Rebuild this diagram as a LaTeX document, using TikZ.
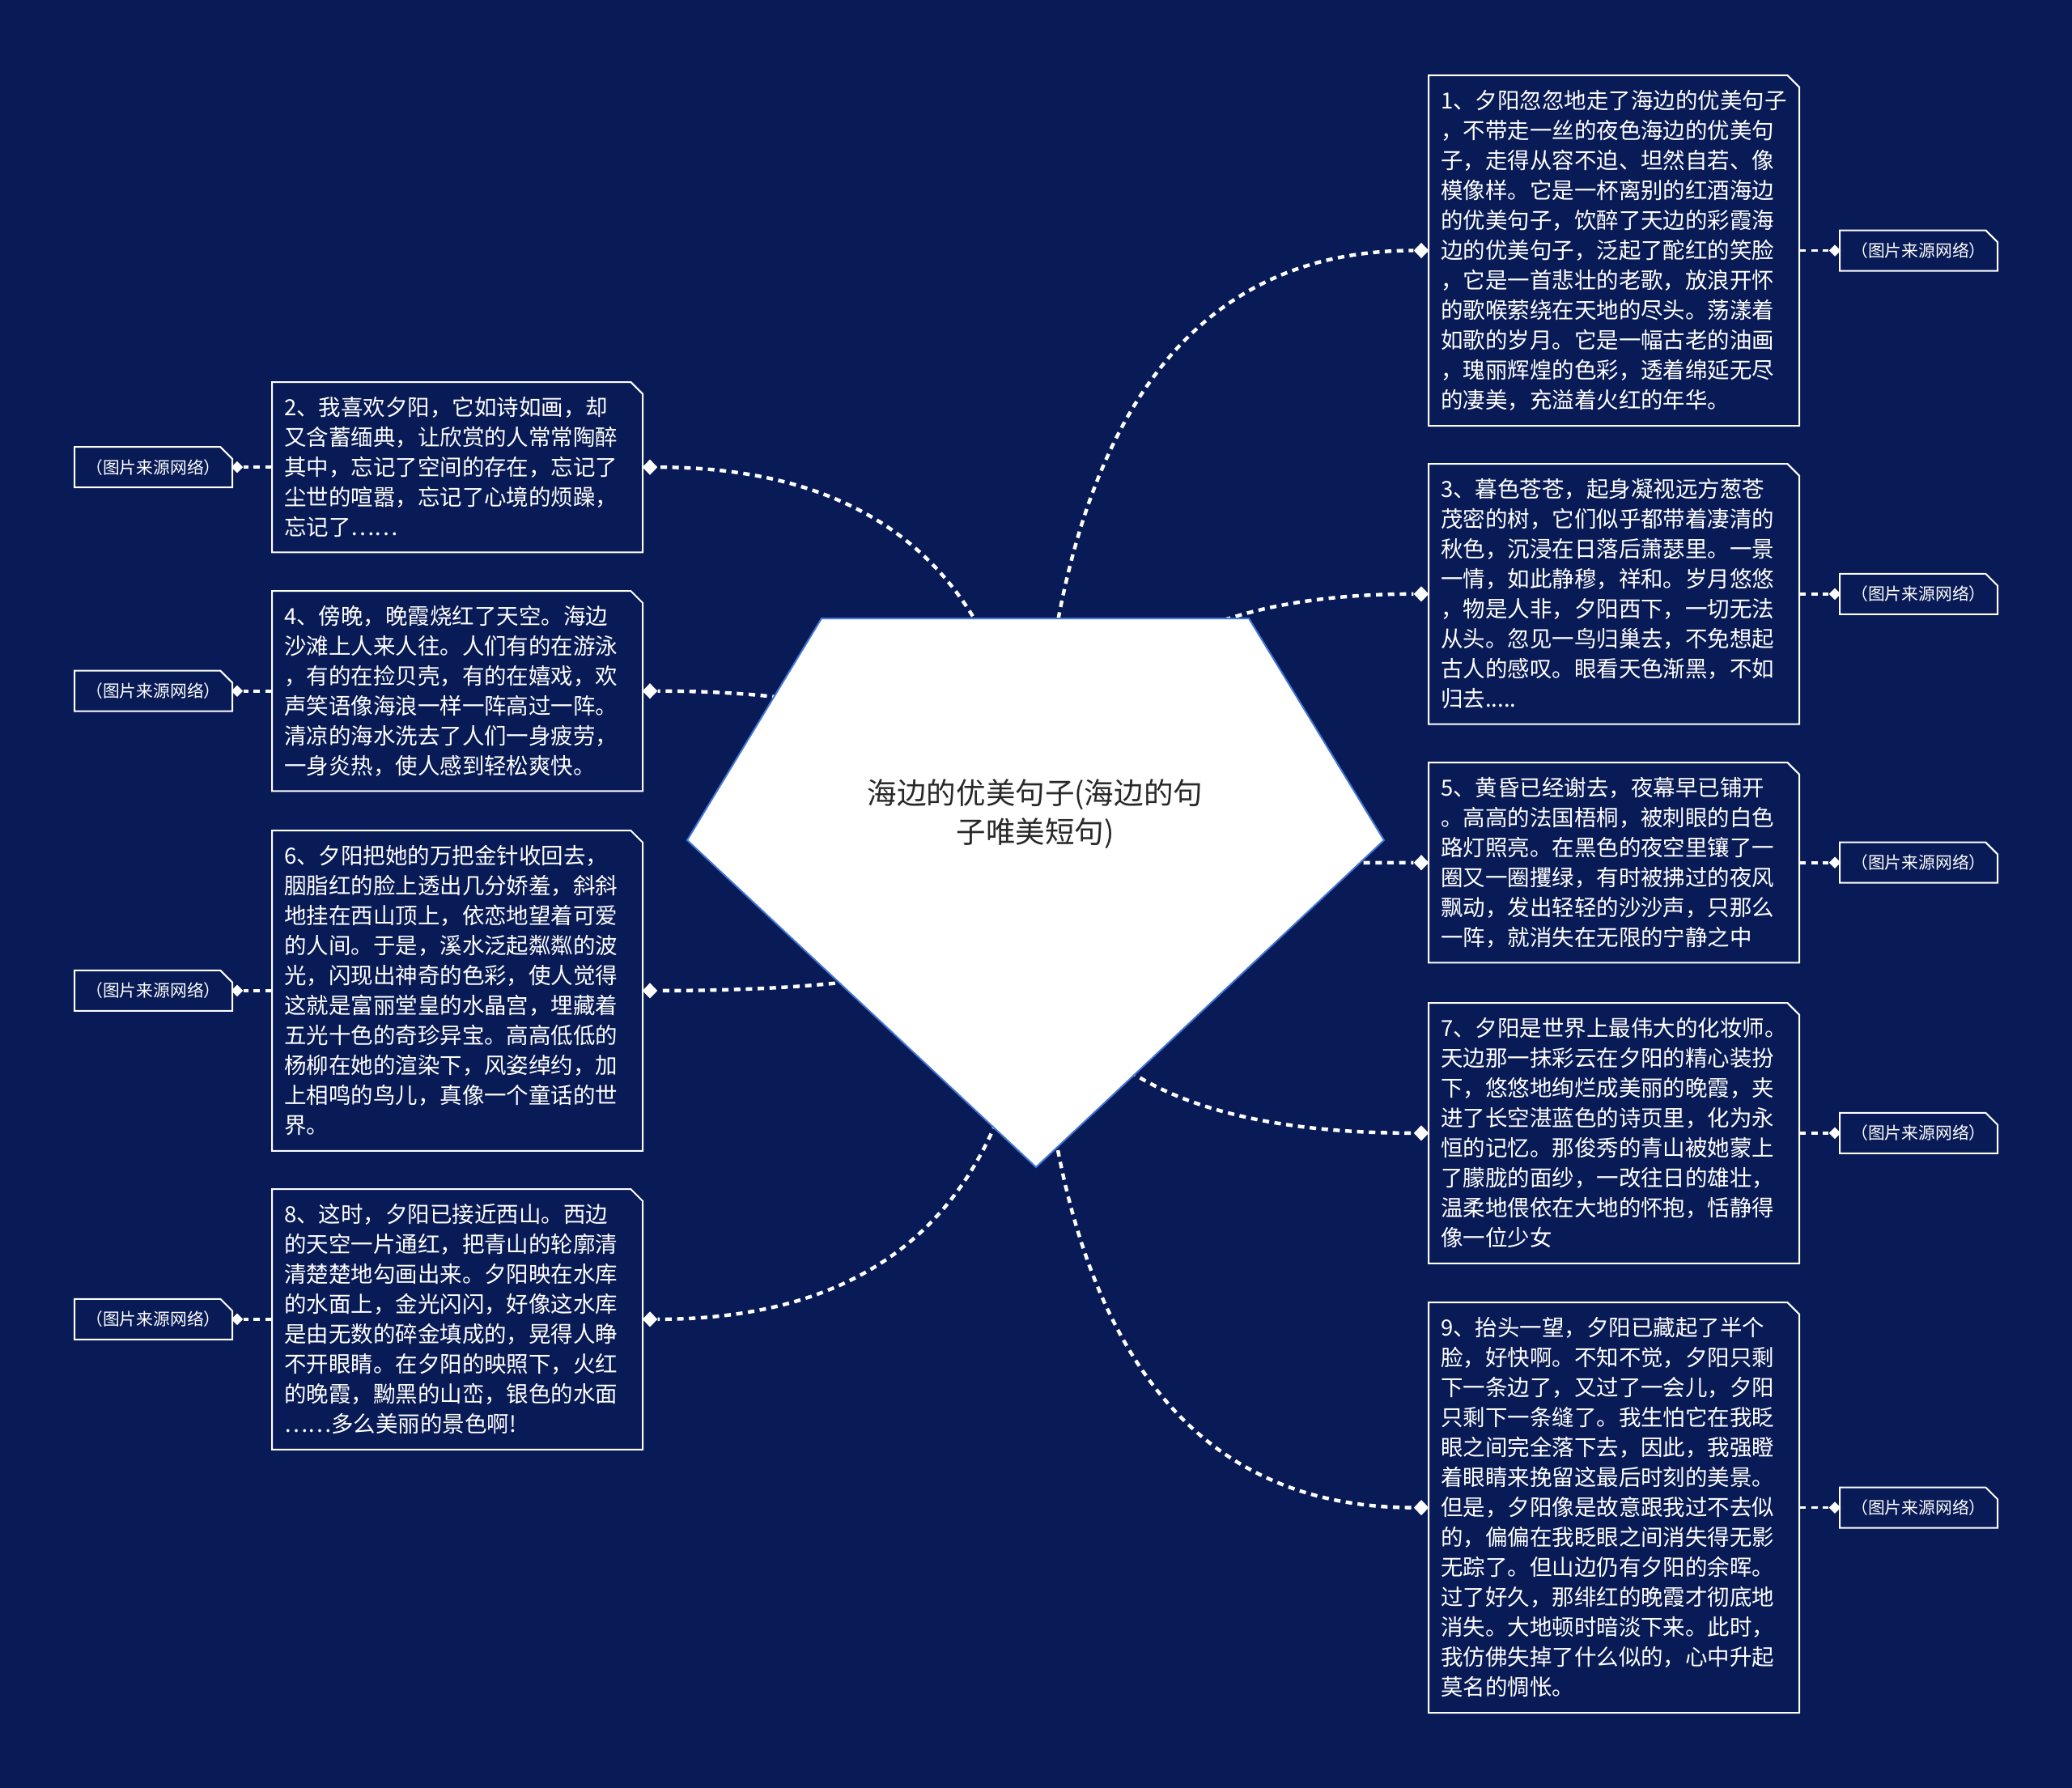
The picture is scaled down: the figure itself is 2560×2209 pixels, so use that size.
\documentclass[tikz,border=0pt]{standalone}
\usepackage{fontspec}
\setmainfont{Noto Sans CJK SC}
\usetikzlibrary{calc,shapes.geometric}
\definecolor{bg}{RGB}{9,27,86}
\definecolor{pentaedge}{RGB}{66,118,214}
\definecolor{roottext}{RGB}{40,40,40}
\tikzset{
 frame/.style={draw=white, line width=1.5pt},
 boxarea/.style={inner sep=0pt, outer sep=0pt, minimum width=343.5pt, anchor=north west},
 boxtxt/.style={inner sep=0pt, anchor=base west, text=white},
 lbl/.style={inner sep=0pt, outer sep=0pt, minimum width=146.25pt, minimum height=37.5pt, text=white, font=\fontsize{15.6pt}{18pt}\selectfont},
 link/.style={draw=white, line width=3.3pt, dash pattern=on 6pt off 5pt},
 slink/.style={draw=white, line width=2.8pt, dash pattern=on 6pt off 5pt},
 bigdot/.style={diamond, fill=white, inner sep=0pt, minimum width=14pt, minimum height=14.5pt},
 smalldot/.style={diamond, fill=white, inner sep=0pt, minimum width=11pt, minimum height=11pt},
}
\newcommand\cutframe[1]{\draw[frame] (#1.north west) -- ([xshift=-11pt]#1.north east) -- ([yshift=-11pt]#1.north east) -- (#1.south east) -- (#1.south west) -- cycle;}
\newcommand\boxtext[1]{\parbox[t]{345pt}{\fontsize{20.6pt}{27.8pt}\selectfont\raggedright #1}}
\begin{document}
\begin{tikzpicture}[x=0.75pt,y=-0.75pt]
\useasboundingbox (0,0) rectangle (2560,2209);
\fill[bg] (0,0) rectangle (2560,2209);
\coordinate (hub) at (1280,1100);

% box areas
\node[boxarea, minimum height=324.75pt] (b1) at (1765,93) {};
\node[boxarea, minimum height=241.3pt] (b3) at (1765,573) {};
\node[boxarea, minimum height=185.6pt] (b5) at (1765,942) {};
\node[boxarea, minimum height=241.3pt] (b7) at (1765,1239) {};
\node[boxarea, minimum height=380.4pt] (b9) at (1765,1609) {};
\node[boxarea, minimum height=157.8pt] (b2) at (336,472) {};
\node[boxarea, minimum height=185.6pt] (b4) at (336,730) {};
\node[boxarea, minimum height=296.9pt] (b6) at (336,1026) {};
\node[boxarea, minimum height=241.3pt] (b8) at (336,1469) {};

\foreach \k in {b1,b2,b3,b4,b5,b6,b7,b8,b9}{\cutframe{\k}}

% texts
\node[boxtxt] (t1) at ($(b1.north west)+(15,41)$) {\boxtext{1、夕阳忽忽地走了海边的优美句子\\，不带走一丝的夜色海边的优美句\\子，走得从容不迫、坦然自若、像\\模像样。它是一杯离别的红酒海边\\的优美句子，饮醉了天边的彩霞海\\边的优美句子，泛起了酡红的笑脸\\，它是一首悲壮的老歌，放浪开怀\\的歌喉萦绕在天地的尽头。荡漾着\\如歌的岁月。它是一幅古老的油画\\，瑰丽辉煌的色彩，透着绵延无尽\\的凄美，充溢着火红的年华。}};
\node[boxtxt] (t3) at ($(b3.north west)+(15,41)$) {\boxtext{3、暮色苍苍，起身凝视远方葱苍\\茂密的树，它们似乎都带着凄清的\\秋色，沉浸在日落后萧瑟里。一景\\一情，如此静穆，祥和。岁月悠悠\\，物是人非，夕阳西下，一切无法\\从头。忽见一鸟归巢去，不免想起\\古人的感叹。眼看天色渐黑，不如\\归去.....}};
\node[boxtxt] (t5) at ($(b5.north west)+(15,41)$) {\boxtext{5、黄昏已经谢去，夜幕早已铺开\\。高高的法国梧桐，被刺眼的白色\\路灯照亮。在黑色的夜空里镶了一\\圈又一圈攫绿，有时被拂过的夜风\\飘动，发出轻轻的沙沙声，只那么\\一阵，就消失在无限的宁静之中}};
\node[boxtxt] (t7) at ($(b7.north west)+(15,41)$) {\boxtext{7、夕阳是世界上最伟大的化妆师。\\天边那一抹彩云在夕阳的精心装扮\\下，悠悠地绚烂成美丽的晚霞，夹\\进了长空湛蓝色的诗页里，化为永\\恒的记忆。那俊秀的青山被她蒙上\\了朦胧的面纱，一改往日的雄壮，\\温柔地偎依在大地的怀抱，恬静得\\像一位少女}};
\node[boxtxt] (t9) at ($(b9.north west)+(15,41)$) {\boxtext{9、抬头一望，夕阳已藏起了半个\\脸，好快啊。不知不觉，夕阳只剩\\下一条边了，又过了一会儿，夕阳\\只剩下一条缝了。我生怕它在我眨\\眼之间完全落下去，因此，我强瞪\\着眼睛来挽留这最后时刻的美景。\\但是，夕阳像是故意跟我过不去似\\的，偏偏在我眨眼之间消失得无影\\无踪了。但山边仍有夕阳的余晖。\\过了好久，那绯红的晚霞才彻底地\\消失。大地顿时暗淡下来。此时，\\我仿佛失掉了什么似的，心中升起\\莫名的惆怅。}};
\node[boxtxt] (t2) at ($(b2.north west)+(15,41)$) {\boxtext{2、我喜欢夕阳，它如诗如画，却\\又含蓄缅典，让欣赏的人常常陶醉\\其中，忘记了空间的存在，忘记了\\尘世的喧嚣，忘记了心境的烦躁，\\忘记了……}};
\node[boxtxt] (t4) at ($(b4.north west)+(15,41)$) {\boxtext{4、傍晚，晚霞烧红了天空。海边\\沙滩上人来人往。人们有的在游泳\\，有的在捡贝壳，有的在嬉戏，欢\\声笑语像海浪一样一阵高过一阵。\\清凉的海水洗去了人们一身疲劳，\\一身炎热，使人感到轻松爽快。}};
\node[boxtxt] (t6) at ($(b6.north west)+(15,41)$) {\boxtext{6、夕阳把她的万把金针收回去，\\胭脂红的脸上透出几分娇羞，斜斜\\地挂在西山顶上，依恋地望着可爱\\的人间。于是，溪水泛起粼粼的波\\光，闪现出神奇的色彩，使人觉得\\这就是富丽堂皇的水晶宫，埋藏着\\五光十色的奇珍异宝。高高低低的\\杨柳在她的渲染下，风姿绰约，加\\上相鸣的鸟儿，真像一个童话的世\\界。}};
\node[boxtxt] (t8) at ($(b8.north west)+(15,41)$) {\boxtext{8、这时，夕阳已接近西山。西边\\的天空一片通红，把青山的轮廓清\\清楚楚地勾画出来。夕阳映在水库\\的水面上，金光闪闪，好像这水库\\是由无数的碎金填成的，晃得人睁\\不开眼睛。在夕阳的映照下，火红\\的晚霞，黝黑的山峦，银色的水面\\……多么美丽的景色啊!}};

% main diamonds
\foreach \k in {1,3,5,7,9}{\node[bigdot] (d\k) at ($(b\k.west)+(-9,0)$) {};}
\foreach \k in {2,4,6,8}{\node[bigdot] (d\k) at ($(b\k.east)+(9,0)$) {};}

% labels
\foreach \k in {1,3,5,7,9}{
 \node[lbl] (l\k) at ($(b\k.east)+(147.5,0)$) {（图片来源网络）};
 \cutframe{l\k}
 \node[smalldot] (e\k) at ($(l\k.west)+(-6,0)$) {};
 \draw[slink] (b\k.east) -- (e\k);
}
\foreach \k in {2,4,6,8}{
 \node[lbl] (l\k) at ($(b\k.west)+(-146.5,0)$) {（图片来源网络）};
 \cutframe{l\k}
 \node[smalldot] (e\k) at ($(l\k.east)+(6,0)$) {};
 \draw[slink] (b\k.west) -- (e\k);
}

% curves from root
\foreach \k in {1,2,3,4,5,6,7,8,9}{
 \draw[link] (hub) .. controls ($(hub)!0.667!(hub|-d\k)$) and ($(d\k)!0.667!(hub|-d\k)$) .. (d\k);
}

% root pentagon
\filldraw[fill=white, draw=pentaedge, line width=1.5pt] (1015,764) -- (1543,764) -- (1710,1038) -- (1280,1442) -- (849,1038) -- cycle;
\node[text=roottext, align=center, inner sep=0pt, font=\fontsize{27.4pt}{36pt}\selectfont] (root) at (1279,1006) {海边的优美句子(海边的句\\子唯美短句)};
\end{tikzpicture}
\end{document}
